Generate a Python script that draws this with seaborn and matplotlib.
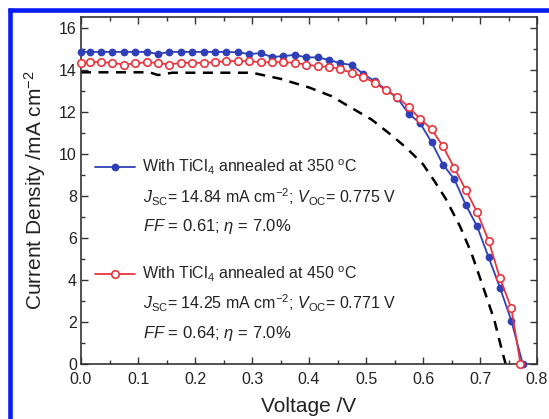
import numpy as np
import pandas as pd
import matplotlib
matplotlib.use("Agg")
import matplotlib.pyplot as plt
from matplotlib.lines import Line2D
from matplotlib.ticker import MultipleLocator
import seaborn as sns

# J-V data
voltage = [0.000, 0.015, 0.035, 0.055, 0.075, 0.095, 0.115, 0.135, 0.155, 0.175,
           0.195, 0.215, 0.235, 0.255, 0.275, 0.295, 0.315, 0.335, 0.355, 0.375,
           0.395, 0.415, 0.435, 0.455, 0.475, 0.495, 0.515, 0.535, 0.555, 0.575,
           0.595, 0.615, 0.635, 0.655, 0.675, 0.695, 0.715, 0.735, 0.755]
j_350 = [14.84, 14.84, 14.84, 14.84, 14.84, 14.84, 14.84, 14.74, 14.84, 14.84,
         14.84, 14.84, 14.84, 14.84, 14.82, 14.74, 14.78, 14.60, 14.64, 14.70,
         14.58, 14.58, 14.46, 14.30, 14.22, 13.80, 13.45, 13.05, 12.65, 11.90,
         11.45, 10.55, 9.48, 8.79, 7.57, 6.54, 5.08, 3.63, 2.06]
j_450 = [14.30, 14.38, 14.35, 14.32, 14.24, 14.29, 14.35, 14.32, 14.24, 14.32,
         14.32, 14.32, 14.35, 14.40, 14.40, 14.40, 14.35, 14.35, 14.35, 14.32,
         14.24, 14.16, 14.13, 14.03, 13.84, 13.65, 13.37, 13.02, 12.70, 12.22,
         11.65, 11.17, 10.35, 9.32, 8.29, 7.21, 5.87, 4.08, 2.65]
voc_350 = 0.775
voc_450 = 0.771

# reference cell (dashed)
v_ref = [0.0, 0.12, 0.135, 0.16, 0.30, 0.35, 0.40, 0.44, 0.47, 0.51, 0.54,
         0.57, 0.60, 0.62, 0.64, 0.665, 0.685, 0.705, 0.725, 0.738, 0.745]
j_ref = [13.87, 13.87, 13.74, 13.85, 13.85, 13.56, 13.15, 12.73, 12.25, 11.62, 10.98,
         10.30, 9.50, 8.70, 7.85, 6.54, 5.27, 3.70, 2.10, 0.70, 0.0]

labels = [r"With TiCl$_4$ annealed at 350 $^{\rm o}$C",
          r"With TiCl$_4$ annealed at 450 $^{\rm o}$C"]
jsc_lines = [r"$J_{\rm SC}$= 14.84 mA cm$^{-2}$; $V_{\rm OC}$= 0.775 V",
             r"$J_{\rm SC}$= 14.25 mA cm$^{-2}$; $V_{\rm OC}$= 0.771 V"]
ff_lines = [r"$FF$ = 0.61; $\eta$ = 7.0%",
            r"$FF$ = 0.64; $\eta$ = 7.0%"]

sns.set_style("ticks")
plt.rcParams['font.family'] = ['Liberation Sans', 'DejaVu Sans']
plt.rcParams['mathtext.fontset'] = 'custom'
plt.rcParams['mathtext.rm'] = 'Liberation Sans'
plt.rcParams['mathtext.it'] = 'Liberation Sans:italic'
plt.rcParams['mathtext.bf'] = 'Liberation Sans:bold'

df350 = pd.DataFrame({'V': voltage + [voc_350], 'J': j_350 + [0.0]})
df450 = pd.DataFrame({'V': voltage + [voc_450], 'J': j_450 + [0.0]})
dfref = pd.DataFrame({'V': v_ref, 'J': j_ref})

fig = plt.figure(figsize=(5.49, 4.19), dpi=100)
ax = fig.add_axes([81 / 549, 1 - 364 / 419, 456 / 549, 347 / 419])

blue = '#2f3fb8'
red = '#e8353d'
txt = '#222222'

sns.lineplot(data=dfref, x='V', y='J', ax=ax, color='black', lw=1.8,
             linestyle=(0, (4, 3)), sort=False, estimator=None)
sns.lineplot(data=df350, x='V', y='J', ax=ax, color=blue, lw=1.3, marker='o',
             markersize=5.6, markeredgewidth=0, sort=False, estimator=None,
             clip_on=False, zorder=3)
sns.lineplot(data=df450, x='V', y='J', ax=ax, color=red, lw=1.3, marker='o',
             markersize=5.4, markerfacecolor='white', markeredgecolor=red,
             markeredgewidth=1.2, sort=False, estimator=None, clip_on=False, zorder=4)

ax.set_xlim(0, 0.8)
ax.set_ylim(0, 16.5)
ax.xaxis.set_major_locator(MultipleLocator(0.1))
ax.xaxis.set_minor_locator(MultipleLocator(0.05))
ax.yaxis.set_major_locator(MultipleLocator(2))
ax.yaxis.set_minor_locator(MultipleLocator(1))
ax.tick_params(which='both', direction='in', top=True, right=True,
               colors='#333333', labelcolor=txt, labelsize=11.5, width=1.0)
ax.tick_params(which='major', length=5, pad=3)
ax.tick_params(axis='x', which='major', pad=6)
ax.tick_params(which='minor', length=3)
ax.xaxis.set_major_formatter(plt.FuncFormatter(lambda v, p: f"{v:.1f}"))
for s in ax.spines.values():
    s.set_linewidth(1.2)
    s.set_color('#333333')
ax.set_xlabel('Voltage /V', fontsize=15, color=txt, labelpad=7)
ax.set_ylabel(r'Current Density /mA cm$^{-2}$', fontsize=15, color=txt, labelpad=8)

handles = [Line2D([], [], color=blue, lw=1.3, marker='o', markersize=5.6, markeredgewidth=0),
           Line2D([], [], color=red, lw=1.3, marker='o', markersize=5.4,
                  markerfacecolor='white', markeredgecolor=red, markeredgewidth=1.2)]
ax.legend(handles, labels, loc='upper left', bbox_to_anchor=(0.017, 0.612),
          borderaxespad=0, frameon=False, fontsize=11.5, handlelength=2.5,
          handletextpad=0.45, labelspacing=5.5)

jsc_y = [0.481, 0.176]
ff_y = [0.395, 0.089]
for t, y in zip(jsc_lines, jsc_y):
    ax.text(0.136, y, t, transform=ax.transAxes, fontsize=11.5,
            va='center', ha='left', color=txt)
for t, y in zip(ff_lines, ff_y):
    ax.text(0.136, y, t, transform=ax.transAxes, fontsize=12,
            va='center', ha='left', color=txt)

# blue frame of the original figure panel
fig.add_artist(Line2D([8 / 549, 1], [1 - 10.5 / 419] * 2, transform=fig.transFigure,
                      color='#0a1cf5', lw=3.3, solid_capstyle='butt'))
fig.add_artist(Line2D([10 / 549] * 2, [1 - 8.5 / 419, 0], transform=fig.transFigure,
                      color='#0a1cf5', lw=3.3, solid_capstyle='butt'))

fig.savefig('out.png', dpi=100)
